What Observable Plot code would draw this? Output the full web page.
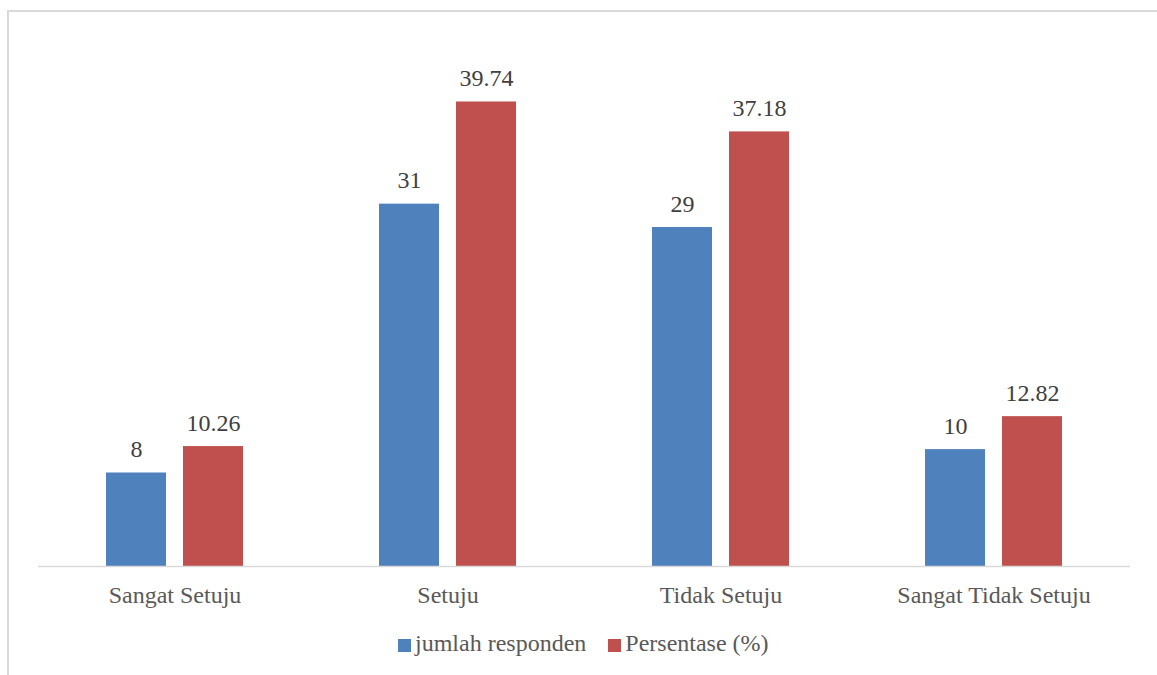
<!DOCTYPE html>
<html>
<head>
<meta charset="utf-8">
<script src="https://cdn.jsdelivr.net/npm/d3@7"></script>
<script src="https://cdn.jsdelivr.net/npm/@observablehq/plot@0.6"></script>
<style>
  html, body { margin: 0; padding: 0; background: #fff; width: 1157px; height: 675px; overflow: hidden; }
  #frame { position: absolute; left: 7px; top: 10px; width: 1200px; height: 700px;
           border-left: 2px solid #d9d9d9; border-top: 2px solid #d9d9d9; box-sizing: border-box; }
  #chart { position: absolute; left: 0; top: 0; }
  #legend { position: absolute; left: 398px; top: 630px; display: flex; align-items: center;
            font-family: 'Times New Roman', Times, Tinos, 'Liberation Serif', 'DejaVu Serif', 'Noto Serif', serif; font-size: 24px; color: #595959; }
  .item { display: flex; align-items: center; margin-right: 22px; }
  .sw { width: 13px; height: 13px; margin-right: 4px; margin-top: 3px; }
  #chart svg text { font-family: 'Times New Roman', Times, Tinos, 'Liberation Serif', 'DejaVu Serif', 'Noto Serif', serif; }
</style>
</head>
<body>
<div id="frame"></div>
<div id="chart"></div>
<div id="legend"></div>
<script>
const categories = ["Sangat Setuju", "Setuju", "Tidak Setuju", "Sangat Tidak Setuju"];
const seriesNames = ["jumlah responden", "Persentase (%)"];
const jumlahResponden = [8, 31, 29, 10];
const persentase = [10.26, 39.74, 37.18, 12.82];
const seriesColors = ["#4f81bd", "#c0504d"];

const data = [];
categories.forEach((c, i) => {
  data.push({cat: c, series: seriesNames[0], value: jumlahResponden[i]});
  data.push({cat: c, series: seriesNames[1], value: persentase[i]});
});

const chart = Plot.plot({
  width: 1157,
  height: 610,
  marginLeft: 37,
  marginRight: 27,
  marginTop: 40,
  marginBottom: 44,
  style: {fontFamily: "'Times New Roman', Times, Tinos, 'Liberation Serif', 'DejaVu Serif', serif", background: "transparent"},
  fx: {domain: categories, paddingInner: 0, paddingOuter: 0, label: null},
  x: {domain: seriesNames, paddingInner: 0.218, paddingOuter: 0.86, axis: null},
  y: {domain: [0, 45], axis: null},
  color: {domain: seriesNames, range: seriesColors},
  marks: [
    Plot.barY(data, {fx: "cat", x: "series", y: "value", fill: "series"}),
    Plot.ruleY([0], {stroke: "#d9d9d9", strokeWidth: 1.5}),
    Plot.text(data, {fx: "cat", x: "series", y: "value", text: d => String(d.value),
      dy: -16, lineAnchor: "bottom", fontSize: 24, fill: "#404040"}),
    Plot.axisFx({anchor: "bottom", tickSize: 0, tickPadding: 19, fontSize: 24, label: null, color: "#595959"})
  ]
});
document.getElementById("chart").appendChild(chart);

const legend = d3.select("#legend");
seriesNames.forEach((s, i) => {
  const item = legend.append("div").attr("class", "item");
  item.append("div").attr("class", "sw").style("background", seriesColors[i]);
  item.append("span").text(s);
});
</script>
</body>
</html>
